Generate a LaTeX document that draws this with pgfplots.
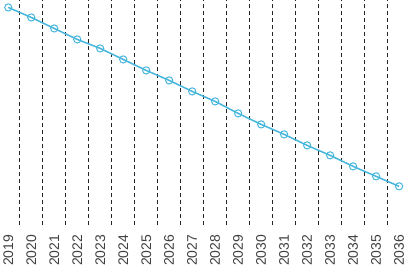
\documentclass[border=0pt]{standalone}
\usepackage{pgfplots}
\pgfplotsset{compat=1.18}
\usepackage{fontspec}
\setmainfont{Liberation Sans}
\definecolor{lineblue}{RGB}{70,182,220}
\begin{document}
\begin{tikzpicture}
\begin{axis}[
  scale only axis,
  width=409bp, height=225bp,
  xmin=-0.35, xmax=17.43,
  ymin=0, ymax=225,
  axis line style={draw=none},
  ytick=\empty,
  xtick={0,...,17},
  xticklabels={2019,2020,2021,2022,2023,2024,2025,2026,2027,2028,2029,2030,2031,2032,2033,2034,2035,2036},
  x tick label style={rotate=90, anchor=east, font=\fontsize{14}{14}\selectfont, text=black!75},
  xticklabel shift=6bp,
  major tick length=0pt, minor tick length=0pt,
  minor xtick={0.5,1.5,...,16.5},
  xminorgrids=true,
  minor grid style={black!85, line width=0.9pt, dash pattern=on 4bp off 3bp},
  tick label style={/pgf/number format/assume math mode=true},
  clip=false,
]
\addplot[color=lineblue, line width=1.5pt, mark=o, mark size=3.6bp,
  mark options={fill=white, line width=1pt, solid}] coordinates {
(0,218) (1,208) (2,197) (3,186) (4,177) (5,166) (6,155) (7,145) (8,134)
(9,124) (10,112) (11,101) (12,91) (13,80) (14,70) (15,59) (16,49) (17,39)
};
\end{axis}
\end{tikzpicture}
\end{document}
